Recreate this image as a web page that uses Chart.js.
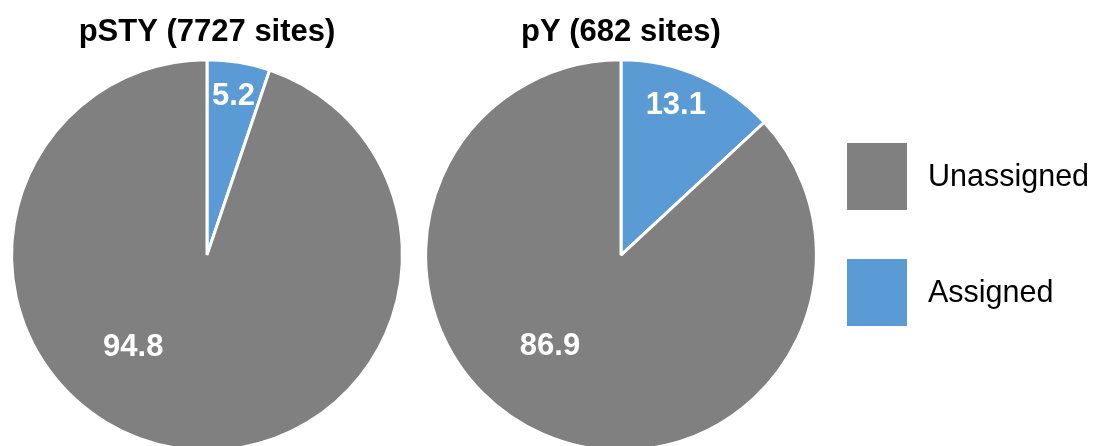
<!DOCTYPE html>
<html>
<head>
<meta charset="utf-8">
<script src="https://cdn.jsdelivr.net/npm/chart.js@4/dist/chart.umd.min.js"></script>
<style>
  html, body { margin: 0; padding: 0; background: #fff; width: 1096px; height: 446px; overflow: hidden; }
  .wrap { position: absolute; top: 0; }
  #w1 { left: 0; width: 414px; height: 462px; }
  #w2 { left: 414px; width: 682px; height: 462px; }
</style>
</head>
<body>
<div class="wrap" id="w1"><canvas id="c1" width="414" height="462"></canvas></div>
<div class="wrap" id="w2"><canvas id="c2" width="682" height="462"></canvas></div>
<script>
// ---- data ----
const categories = ['Assigned', 'Unassigned'];
const legendOrder = ['Unassigned', 'Assigned'];
const titles = ['pSTY (7727 sites)', 'pY (682 sites)'];
const pSTYValues = [5.2, 94.8];
const pYValues = [13.1, 86.9];
const sliceColors = ['#5B9BD5', '#808080'];

const FONT = "'Liberation Sans', Arial, Helvetica, sans-serif";

// value label plugin (positions given as angle (deg, clockwise from top) and radius fraction)
const valueLabels = {
  id: 'valueLabels',
  afterDatasetsDraw(chart, args, opts) {
    const ctx = chart.ctx;
    const meta = chart.getDatasetMeta(0);
    const ds = chart.data.datasets[0];
    ctx.save();
    ctx.fillStyle = '#ffffff';
    ctx.font = 'bold 31px ' + FONT;
    ctx.textAlign = 'center';
    ctx.textBaseline = 'middle';
    meta.data.forEach((arc, i) => {
      const p = opts.placement[i];
      const a = p.deg * Math.PI / 180;
      const r = arc.outerRadius * p.r;
      const x = arc.x + Math.sin(a) * r;
      const y = arc.y - Math.cos(a) * r;
      ctx.fillText(ds.data[i].toFixed(1), x, y + 1);
    });
    ctx.restore();
  }
};

// legend plugin drawn on the right chart
const sideLegend = {
  id: 'sideLegend',
  afterDraw(chart, args, opts) {
    if (!opts.show) return;
    const ctx = chart.ctx;
    const ds = chart.data.datasets[0];
    ctx.save();
    ctx.font = '30.5px ' + FONT;
    ctx.textBaseline = 'middle';
    ctx.textAlign = 'left';
    legendOrder.forEach((name, k) => {
      const idx = chart.data.labels.indexOf(name);
      const top = opts.top + k * opts.step;
      ctx.fillStyle = ds.backgroundColor[idx];
      ctx.fillRect(opts.boxX, top, opts.boxW, opts.boxH);
      ctx.fillStyle = '#000000';
      ctx.fillText(name, opts.textX, top + opts.boxH / 2 + 1);
    });
    ctx.restore();
  }
};

function makePie(canvasId, title, values, padRight, placement, showLegend) {
  return new Chart(document.getElementById(canvasId), {
    type: 'pie',
    data: {
      labels: categories,
      datasets: [{
        data: values,
        backgroundColor: sliceColors,
        borderColor: '#ffffff',
        borderWidth: 3,
        hoverOffset: 0
      }]
    },
    options: {
      responsive: false,
      animation: false,
      events: [],
      layout: { padding: { left: 10, right: padRight, top: 0, bottom: 10 } },
      plugins: {
        legend: { display: false },
        tooltip: { enabled: false },
        title: {
          display: true,
          text: title,
          color: '#000000',
          font: { family: FONT, size: 31, weight: 'bold', lineHeight: 1.2 },
          padding: { top: 14, bottom: 7 }
        },
        valueLabels: { placement: placement },
        sideLegend: { show: showLegend, boxX: 433, boxW: 60, boxH: 67, top: 143, step: 116, textX: 514 }
      }
    },
    plugins: [valueLabels, sideLegend]
  });
}

makePie('c1', titles[0], pSTYValues, 10,
  [{deg: 9.4, r: 0.83}, {deg: 219, r: 0.60}], false);
makePie('c2', titles[1], pYValues, 278,
  [{deg: 20, r: 0.82}, {deg: 218, r: 0.59}], true);
</script>
</body>
</html>
